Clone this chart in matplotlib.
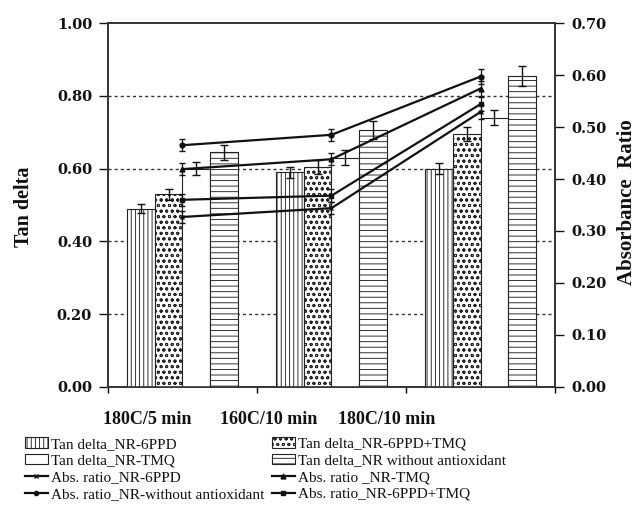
import numpy as np
import matplotlib
matplotlib.use("Agg")
import matplotlib.pyplot as plt
from matplotlib.patches import Patch
from matplotlib.lines import Line2D

plt.rcParams['hatch.linewidth'] = 0.65
plt.rcParams['hatch.color'] = '#333333'

# Cure conditions
categories = ['180C/5 min', '160C/10 min', '180C/10 min']

# Tan delta (left axis)
tan_6ppd = [0.49, 0.59, 0.60]
tan_6ppd_tmq = [0.53, 0.605, 0.695]
tan_tmq = [0.60, 0.63, 0.74]
tan_nr = [0.645, 0.705, 0.855]
tan_6ppd_err = [0.012, 0.015, 0.015]
tan_6ppd_tmq_err = [0.015, 0.02, 0.02]
tan_tmq_err = [0.018, 0.02, 0.02]
tan_nr_err = [0.02, 0.025, 0.027]

# Absorbance ratio (right axis)
abs_6ppd = [0.327, 0.344, 0.529]
abs_tmq = [0.419, 0.438, 0.574]
abs_nr = [0.465, 0.485, 0.597]
abs_6ppd_tmq = [0.360, 0.368, 0.544]
abs_err = [0.012, 0.012, 0.014]

tick_font = dict(family='DejaVu Serif', weight='bold', size=10.5)
serif = 'Liberation Serif'
ink = '#111111'

fig = plt.figure(figsize=(6.42, 5.09), dpi=100)
ax = fig.add_axes([0.1682, 0.2397, 0.6963, 0.7151])
ax2 = ax.twinx()

x = np.arange(len(categories))
w = 0.185
bar_kw = dict(width=w, edgecolor='#222222', linewidth=0.8, zorder=3,
              error_kw=dict(ecolor=ink, elinewidth=1, capsize=3, capthick=1))

ax.bar(x - 1.5 * w, tan_6ppd, yerr=tan_6ppd_err, color='white', hatch='||||', **bar_kw)
ax.bar(x - 0.5 * w, tan_6ppd_tmq, yerr=tan_6ppd_tmq_err, color='white', hatch='ooo', **bar_kw)
ax.bar(x + 0.5 * w, tan_tmq, yerr=tan_tmq_err, color='white', **bar_kw)
ax.bar(x + 1.5 * w, tan_nr, yerr=tan_nr_err, color='white', hatch='---', **bar_kw)

ax.set_xlim(-0.5, 2.5)
ax.set_ylim(0, 1.0)
ax.set_yticks(np.arange(0, 1.01, 0.2))
ax.set_yticklabels([f'{v:.2f}' for v in np.arange(0, 1.01, 0.2)], **tick_font)
ax.set_xticks([-0.5, 0.5, 1.5, 2.5])
ax.set_xticklabels([])
ax.tick_params(axis='y', direction='out', length=6.5, width=1, pad=5, colors=ink)
ax.tick_params(axis='x', direction='out', length=4, width=1)
for v in [0.2, 0.4, 0.6, 0.8]:
    ax.axhline(v, color='#333333', lw=1, ls=(0, (2.2, 2.2)), zorder=1)

# absorbance ratio lines
line_kw = dict(color=ink, lw=1.6, ms=3.5, capsize=2.5, elinewidth=0.9, zorder=5)
ax2.errorbar(x, abs_nr, yerr=abs_err, marker='o', **line_kw)
ax2.errorbar(x, abs_tmq, yerr=abs_err, marker='^', **line_kw)
ax2.errorbar(x, abs_6ppd_tmq, yerr=abs_err, marker='s', **line_kw)
ax2.errorbar(x, abs_6ppd, yerr=abs_err, marker='x', mew=1, **line_kw)

ax2.set_ylim(0, 0.7)
ax2.set_yticks(np.arange(0, 0.701, 0.1))
ax2.set_yticklabels([f'{v:.2f}' for v in np.arange(0, 0.701, 0.1)], **tick_font)
ax2.tick_params(axis='y', direction='out', length=6.5, width=1, pad=5, colors=ink)

for a in (ax, ax2):
    for s in a.spines.values():
        s.set_color('#333333')
        s.set_linewidth(1.2)

# category labels under the axis
for xc, lab in zip([147, 269, 387], categories):
    fig.text(xc / 642, 1 - 420 / 509, lab, ha='center', va='center',
             family=serif, weight='bold', size=13, color=ink)

fig.text(14 / 642, 1 - 207 / 509, 'Tan delta', rotation=90, ha='left', va='center',
         family=serif, weight='bold', size=14.5, color=ink)
fig.text(617 / 642, 1 - 202 / 509, 'Absorbance  Ratio', rotation=90, ha='left', va='center',
         family=serif, weight='bold', size=15, color=ink)

# legend in two columns, filled column by column
h_6ppd = Patch(facecolor='white', edgecolor='#222222', hatch='||||', lw=0.8)
h_6ppd_tmq = Patch(facecolor='white', edgecolor='#222222', hatch='ooo', lw=0.8)
h_tmq = Patch(facecolor='white', edgecolor='#222222', lw=0.8)
h_nr = Patch(facecolor='white', edgecolor='#222222', hatch='---', lw=0.8)
l_6ppd = Line2D([], [], color=ink, lw=1.6, marker='x', ms=3.5)
l_tmq = Line2D([], [], color=ink, lw=1.6, marker='^', ms=3.5)
l_nr = Line2D([], [], color=ink, lw=1.6, marker='o', ms=3)
l_6ppd_tmq = Line2D([], [], color=ink, lw=1.6, marker='s', ms=3)

handles = [h_6ppd, h_tmq, l_6ppd, l_nr, h_6ppd_tmq, h_nr, l_tmq, l_6ppd_tmq]
labels = ['Tan delta_NR-6PPD', 'Tan delta_NR-TMQ', 'Abs. ratio_NR-6PPD',
          'Abs. ratio_NR-without antioxidant', 'Tan delta_NR-6PPD+TMQ',
          'Tan delta_NR without antioxidant', 'Abs. ratio _NR-TMQ',
          'Abs. ratio_NR-6PPD+TMQ']
fig.legend(handles, labels, ncol=2, loc='upper left',
           bbox_to_anchor=(25 / 642, 1 - 437 / 509), frameon=False,
           prop=dict(family=serif, size=11), handlelength=1.5, handleheight=0.7,
           handletextpad=0.2, columnspacing=0.5, labelspacing=0.2,
           borderpad=0, borderaxespad=0, labelcolor=ink)

fig.savefig('out.png', dpi=100)
